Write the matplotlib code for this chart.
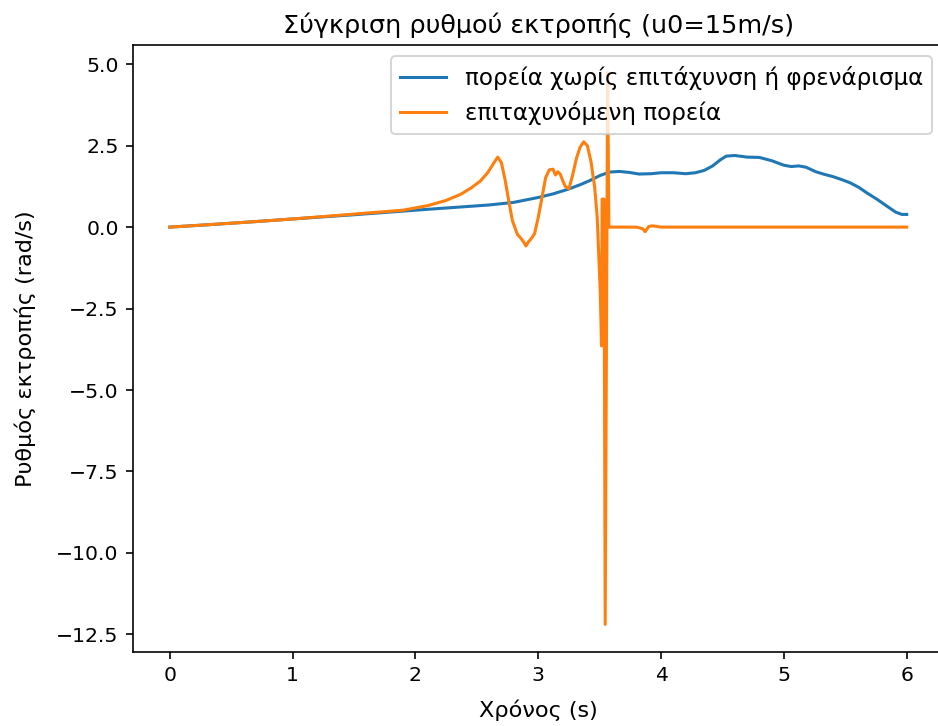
import matplotlib
matplotlib.use("Agg")
import matplotlib.pyplot as plt

# Blue series: path without acceleration or braking
t_steady = [0.0, 0.3, 0.7, 1.0, 1.5, 2.0, 2.3, 2.6, 2.8, 3.0, 3.12, 3.24, 3.34, 3.42,
            3.5, 3.58, 3.66, 3.74, 3.82, 3.92, 4.0, 4.1, 4.2, 4.28, 4.35, 4.42,
            4.48, 4.53, 4.6, 4.7, 4.8, 4.9, 5.0, 5.06, 5.12, 5.18, 5.26, 5.33,
            5.4, 5.47, 5.54, 5.61, 5.68, 5.76, 5.84, 5.91, 5.96, 6.0]
w_steady = [0.0, 0.07, 0.17, 0.25, 0.38, 0.52, 0.6, 0.68, 0.76, 0.91, 1.02, 1.16, 1.3,
            1.43, 1.58, 1.69, 1.71, 1.68, 1.63, 1.64, 1.67, 1.67, 1.64, 1.67, 1.74,
            1.88, 2.06, 2.18, 2.2, 2.15, 2.14, 2.04, 1.9, 1.86, 1.88, 1.84, 1.7,
            1.62, 1.55, 1.46, 1.36, 1.22, 1.04, 0.85, 0.64, 0.46, 0.39, 0.39]

# Orange series: accelerating path
t_accel = [0.0, 0.3, 0.7, 1.0, 1.5, 1.9, 2.1, 2.25, 2.37, 2.46, 2.53, 2.59, 2.64,
           2.67, 2.7, 2.73, 2.76, 2.79, 2.83, 2.86, 2.88, 2.9, 2.92, 2.94, 2.97,
           3.0, 3.03, 3.06, 3.09, 3.12, 3.14, 3.16, 3.18, 3.2, 3.22, 3.25, 3.28,
           3.31, 3.34, 3.37, 3.4, 3.43, 3.46, 3.48, 3.505, 3.515, 3.52, 3.535,
           3.545, 3.565, 3.575, 3.6, 3.7, 3.8, 3.85, 3.87, 3.9, 3.93, 4.0, 4.5,
           5.0, 5.5, 6.0]
w_accel = [0.0, 0.07, 0.17, 0.25, 0.4, 0.52, 0.66, 0.82, 1.01, 1.22, 1.42, 1.68, 1.98,
           2.15, 1.98, 1.45, 0.8, 0.19, -0.22, -0.35, -0.45, -0.58, -0.45, -0.37,
           -0.2, 0.3, 0.9, 1.52, 1.76, 1.78, 1.6, 1.7, 1.62, 1.42, 1.25, 1.18, 1.6,
           2.1, 2.45, 2.62, 2.5, 2.0, 1.2, 0.3, -2.0, -3.65, 0.86, 0.86, -12.2,
           4.75, 0.0, 0.0, 0.0, 0.0, -0.05, -0.14, 0.02, 0.04, 0.0, 0.0, 0.0, 0.0, 0.0]

title = "Σύγκριση ρυθμού εκτροπής (u0=15m/s)"
labels = ["πορεία χωρίς επιτάχυνση ή φρενάρισμα", "επιταχυνόμενη πορεία"]

fig, ax = plt.subplots(figsize=(6.4, 4.95), dpi=146.7)
# the right spine sits just past the image edge, as in the cropped original
fig.subplots_adjust(left=0.1416, right=1.005, bottom=0.102, top=0.938)

ax.plot(t_steady, w_steady, label=labels[0])
ax.plot(t_accel, w_accel, label=labels[1])
ax.set_title(title, fontsize=12.5)
ax.set_xlabel("Χρόνος (s)", fontsize=11, labelpad=7)
ax.set_ylabel("Ρυθμός εκτροπής (rad/s)", fontsize=11, labelpad=10)
ax.legend(loc="upper right", fontsize=11.3)

fig.savefig("out.png", dpi=146.7)
